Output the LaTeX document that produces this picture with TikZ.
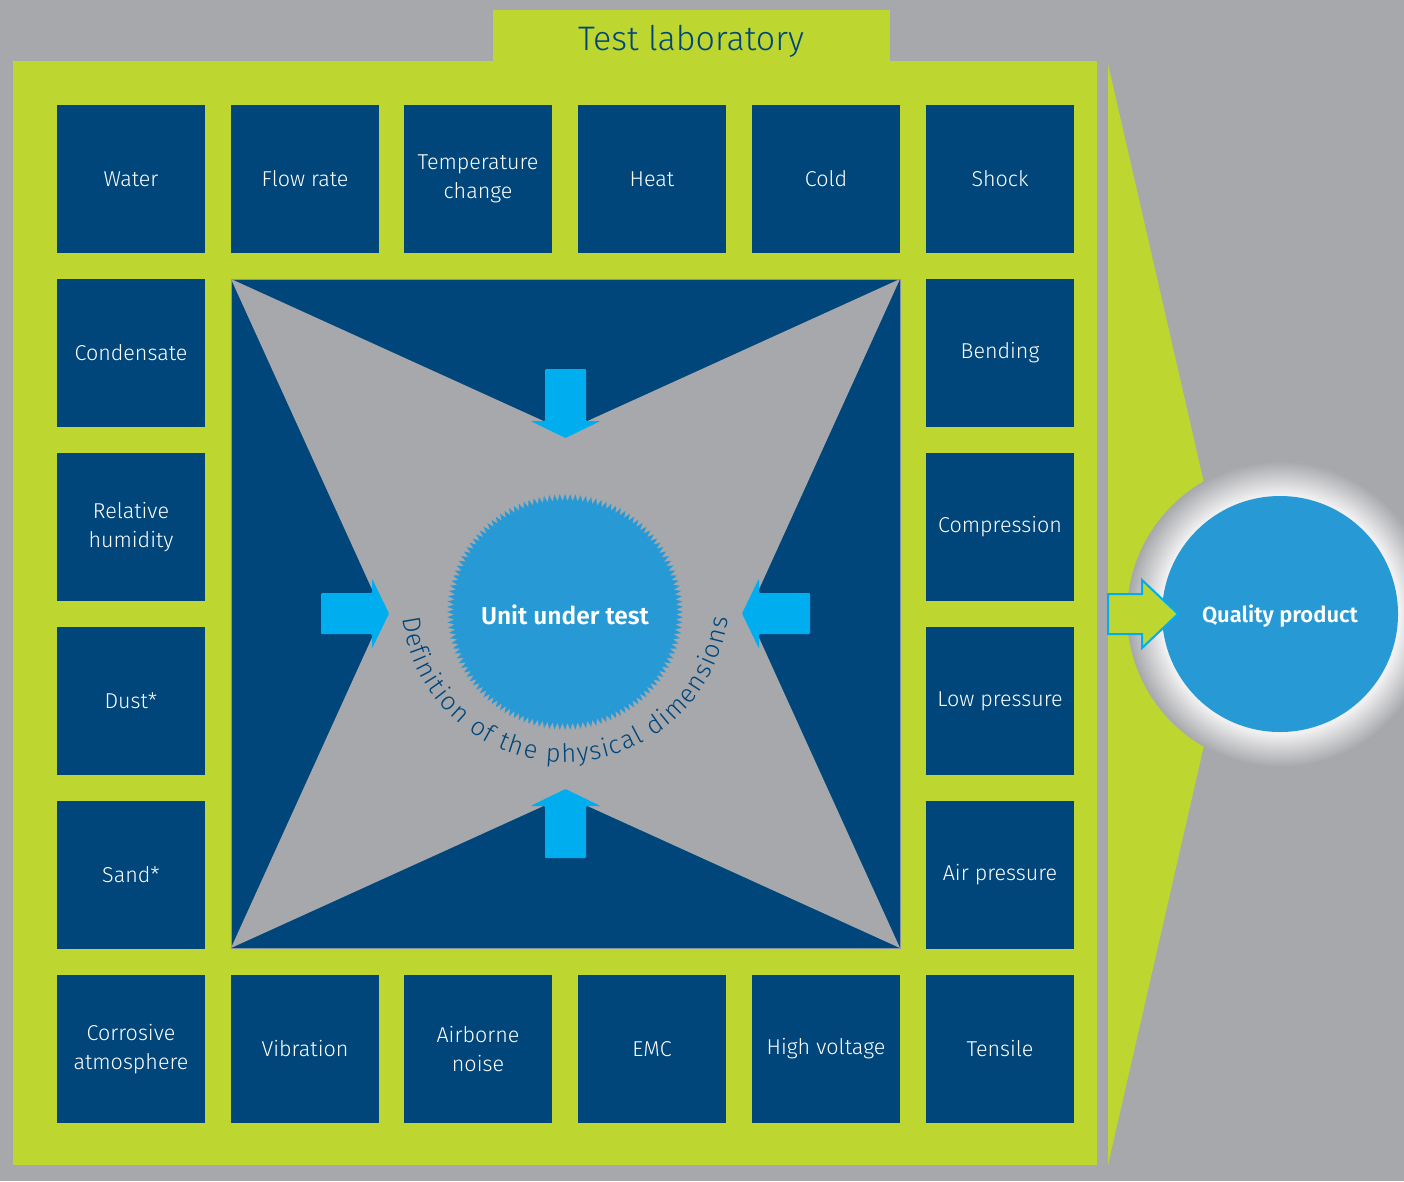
\documentclass[tikz,border=0pt]{standalone}
\usepackage{fontspec}
\setmainfont{Fira Sans Light}[BoldFont={Fira Sans SemiBold}]
\usetikzlibrary{decorations.text}
\definecolor{bg}{HTML}{A7A8AC}
\definecolor{lime}{HTML}{BED630}
\definecolor{navy}{HTML}{00467A}
\definecolor{cyanarrow}{HTML}{00AEEF}
\definecolor{unitblue}{HTML}{2799D5}
\definecolor{halo}{HTML}{F0F0F1}
\pgfdeclareradialshading{haloshade}{\pgfpoint{0bp}{0bp}}{color(0bp)=(halo); color(19.6bp)=(halo); color(25bp)=(bg); color(50bp)=(bg)}
\newcommand\arcfont{\fontsize{25.5}{26}\selectfont}
\begin{document}
\begin{tikzpicture}[x=1pt,y=-1pt,
  cell/.style={fill=navy, text=white, minimum size=148pt, inner sep=0pt, align=center,
    font=\fontsize{21.5}{29}\selectfont},
  inarrow/.style={fill=cyanarrow, rounded corners=1pt},
  bigtext/.style={text=white, font=\bfseries\fontsize{24.5}{28}\selectfont}]
\useasboundingbox (0,0) rectangle (1404,1181);
\fill[bg] (0,0) rectangle (1404,1181);
% frame
\fill[lime] (493,10) rectangle (890,62);
\fill[lime] (13,61) rectangle (1097,1165);
\fill[lime] (1108,64) -- (1234,614) -- (1108,1165) -- cycle;
\node[text=navy, font=\fontsize{34}{40}\selectfont] (title) at (691,41) {Test laboratory};
% cells
\node[cell] (water) at (131,179) {Water};
\node[cell] (flow) at (305,179) {Flow rate};
\node[cell] (temp) at (478,179) {Temperature\\change};
\node[cell] (heat) at (652,179) {Heat};
\node[cell] (cold) at (826,179) {Cold};
\node[cell] (shock) at (1000,179) {Shock};
\node[cell] (cond) at (131,353) {Condensate};
\node[cell] (hum) at (131,527) {Relative\\humidity};
\node[cell] (dust) at (131,701) {Dust*};
\node[cell] (sand) at (131,875) {Sand*};
\node[cell] (bend) at (1000,353) {Bending};
\node[cell] (comp) at (1000,527) {Compression};
\node[cell] (lowp) at (1000,701) {Low pressure};
\node[cell] (airp) at (1000,875) {Air pressure};
\node[cell] (corr) at (131,1049) {Corrosive\\atmosphere};
\node[cell] (vib) at (305,1049) {Vibration};
\node[cell] (noise) at (478,1049) {Airborne\\noise};
\node[cell] (emc) at (652,1049) {EMC};
\node[cell] (hv) at (826,1049) {High voltage};
\node[cell] (tens) at (1000,1049) {Tensile};
% central square
\filldraw[fill=navy, draw=bg!80!navy, line width=1pt] (231,279) rectangle (900,948);
\fill[bg] (231,279) -- (565.5,431) -- (900,279) -- (748,613.5) -- (900,948) -- (565.5,796)
  -- (231,948) -- (383,613.5) -- cycle;
% inward arrows
\fill[inarrow] (565.5,438) -- (530.5,421) -- (545,421) -- (545,369) -- (586,369) -- (586,421) -- (600.5,421) -- cycle;
\fill[inarrow] (565.5,789) -- (530.5,806) -- (545,806) -- (545,858) -- (586,858) -- (586,806) -- (600.5,806) -- cycle;
\fill[inarrow] (389,613.5) -- (372,578.5) -- (372,593) -- (321,593) -- (321,634) -- (372,634) -- (372,648.5) -- cycle;
\fill[inarrow] (742,613.5) -- (759,578.5) -- (759,593) -- (810,593) -- (810,634) -- (759,634) -- (759,648.5) -- cycle;
% unit under test
\begin{scope}[shift={(565,612)}]
\fill[unitblue] plot[variable=\x, samples at={0,1,...,279}] ({\x*9/7}:{111+7*mod(\x+1,2)}) -- cycle;
\end{scope}
\node[bigtext] (unit) at (565,615) {Unit under test};
\path[decorate, decoration={text along path, text align=fit to path, text color=navy,
  text={|\arcfont|Definition of the physical dimensions}}]
  (565,598) ++(173:164) arc[start angle=173, end angle=7, radius=164];
% quality product
\shade[shading=haloshade] (1280,614) circle[radius=153];
\node[circle, fill=unitblue, minimum size=236pt, inner sep=0pt] (quality) at (1280,614) {};
\filldraw[fill=lime, draw=cyanarrow, line width=2pt] (1108,594) -- (1142,594) -- (1142,580) -- (1178,614)
  -- (1142,648) -- (1142,634) -- (1108,634) -- cycle;
\node[bigtext, font=\bfseries\fontsize{22}{26}\selectfont] (qtext) at (1280,616) {Quality product};
\end{tikzpicture}
\end{document}
